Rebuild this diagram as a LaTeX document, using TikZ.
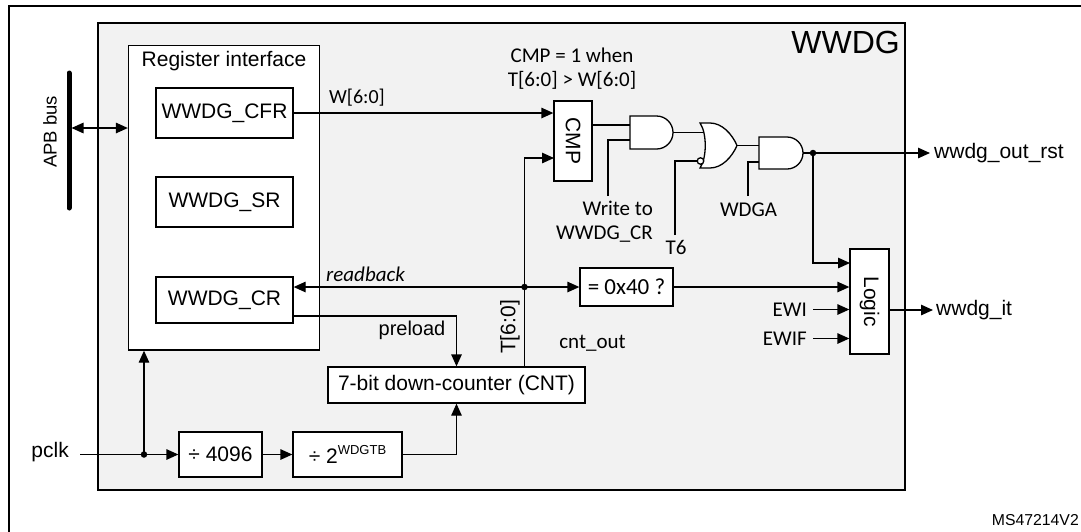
\documentclass[tikz,border=0pt]{standalone}
\usepackage{fontspec}
\setmainfont{Liberation Sans}
\newfontfamily\calfont{Carlito}
\usetikzlibrary{arrows.meta}
\definecolor{blockgray}{HTML}{F2F2F2}
\tikzset{
  wire/.style={line width=1.3pt},
  arr/.style={wire,-{Triangle[length=12pt,width=10.5pt]}},
  darr/.style={wire,{Triangle[length=12pt,width=10.5pt]}-{Triangle[length=12pt,width=10.5pt]}},
  box/.style={draw,line width=1.3pt,fill=white,inner sep=0pt},
  gate/.style={draw,line width=1.3pt,fill=white},
  jdot/.style={circle,fill=black,inner sep=0pt,minimum size=6.5pt},
  af/.style={font=\fontsize{21}{25}\selectfont},
  cf/.style={font=\calfont\fontsize{21}{24}\selectfont},
  lbl/.style={inner sep=0pt},
}
\begin{document}
\begin{tikzpicture}[x=1pt,y=-1pt]
\useasboundingbox (0,0) rectangle (1081,531);
\clip (0,0) rectangle (1081,531);
% outer frame
\coordinate (fbl) at (9,540); \coordinate (ftl) at (9,6); \coordinate (ftr) at (1090,6);
\draw[line width=1.5pt] (fbl) -- (ftl) -- (ftr);
% WWDG block
\node[draw,line width=2pt,fill=blockgray,minimum width=807pt,minimum height=467pt,inner sep=0pt] (wwdg) at (501.5,256.5) {};
\node[lbl,anchor=north east,font=\fontsize{32}{36}\selectfont] (wwdgl) at (900,31) {WWDG};
% register interface
\node[box,minimum width=191pt,minimum height=304.5pt] (regif) at (224,197.75) {};
\node[lbl,af] (regt) at (224,61) {Register interface};
\node[box,af,minimum width=137pt,minimum height=50pt] (cfr) at (224.5,113) {WWDG\_CFR};
\node[box,af,minimum width=137pt,minimum height=50pt] (sr) at (224.5,202) {WWDG\_SR};
\node[box,af,minimum width=137pt,minimum height=46pt] (cr) at (224.5,300) {WWDG\_CR};
% APB bus
\coordinate (apbt) at (69,73); \coordinate (apbb) at (69,208);
\draw[line width=5pt,line cap=round] (apbt) -- (apbb);
\node[lbl,rotate=90,font=\fontsize{18.5}{22}\selectfont] (apbl) at (50,132) {APB bus};
\coordinate (apbm) at (71.5,128);
\draw[darr] (apbm) -- (apbm -| regif.west);
% CMP
\node[box,minimum width=38pt,minimum height=80pt] (cmp) at (573,141) {};
\node[lbl,af,rotate=-90] (cmpt) at (cmp.center) {CMP};
\node[lbl,cf,align=center,anchor=north] (cmpnote) at (572,48) {CMP = 1 when\\T[6:0] > W[6:0]};
\draw[arr] (cfr.east) -- (cfr.east -| cmp.west);
\node[lbl,font=\calfont\fontsize{20}{24}\selectfont] (wl) at (357,98) {W[6:0]};
% =0x40, logic, counter, dividers
\node[box,font=\calfont\fontsize{23}{26}\selectfont,minimum width=93pt,minimum height=38pt] (eq) at (626.5,287) {= 0x40 ?};
\node[box,minimum width=39pt,minimum height=105pt] (logic) at (869.5,301.5) {};
\node[lbl,af,rotate=-90] (logict) at (logic.center) {Logic};
\node[box,af,minimum width=257pt,minimum height=36pt] (cnt) at (456.5,385) {7-bit down-counter (CNT)};
\node[box,af,minimum width=83pt,minimum height=45pt] (div1) at (220.5,454.5) {÷ 4096};
\node[box,af,minimum width=109pt,minimum height=45pt] (div2) at (347.5,454.5) {÷ 2\raisebox{9pt}{\fontsize{13}{15}\selectfont WDGTB}};
% readback / T[6:0]
\node[jdot] (j1) at (524.5,287) {};
\draw[arr] (j1.center) -- (j1.center -| cr.east);
\node[lbl,anchor=base west,font=\calfont\itshape\fontsize{21}{24}\selectfont] (rbl) at (326,281) {readback};
\draw[arr] (j1.center) -- (eq.west);
\coordinate (cmpin2) at (554,158);
\draw[arr] (cnt.north -| j1) -- (j1.center) |- (cmpin2);
\node[lbl,af,rotate=90] (tl) at (510,327) {T[6:0]};
\node[lbl,cf,anchor=base] (col) at (592.5,348) {cnt\_out};
% preload
\coordinate (crout) at (293,316);
\draw[arr] (crout) -| (cnt.north);
\node[lbl,font=\fontsize{20}{24}\selectfont,anchor=base] (pl) at (412,335) {preload};
% pclk
\coordinate (pclkin) at (80,454.5);
\node[lbl,af,anchor=east] (pclkl) at (69,452) {pclk};
\node[jdot] (j3) at (144,454.5) {};
\draw[arr] (pclkin) -- (div1.west);
\draw[arr] (j3.center) -- (j3.center |- regif.south);
\draw[arr] (div1) -- (div2);
\draw[arr] (div2.east) -| (cnt.south);
% gates
\draw[gate] (630,116) -- (656.5,116) .. controls (665.6,116) and (673,123.4) .. (673,132.5) .. controls (673,141.6) and (665.6,149) .. (656.5,149) -- (630,149) -- cycle;
\coordinate (a1i1) at (630,125); \coordinate (a1i2) at (630,140); \coordinate (a1o) at (673,132.5);
\draw[gate] (700,123) -- (710,123) .. controls (722,123) and (732,134) .. (737,145.5) .. controls (732,157) and (722,168) .. (710,168) -- (700,168) .. controls (707,158) and (707,133) .. (700,123) -- cycle;
\coordinate (o1i1) at (704,132.5); \coordinate (o1o) at (737,145.5);
\node[circle,draw,fill=white,line width=1.3pt,minimum size=6.5pt,inner sep=0pt] (bub) at (700.5,161) {};
\draw[gate] (759,137) -- (787,137) .. controls (795.8,137) and (803,144.2) .. (803,153) .. controls (803,161.8) and (795.8,169) .. (787,169) -- (759,169) -- cycle;
\coordinate (a2i1) at (759,145.5); \coordinate (a2i2) at (759,162); \coordinate (a2o) at (803,153);
% gate wiring
\draw[wire] (cmp.east |- a1i1) -- (a1i1);
\coordinate (wrs) at (608,196);
\draw[wire] (wrs) |- (a1i2);
\node[lbl,cf,align=right,anchor=north east] (wrl) at (653,201) {Write to\\WWDG\_CR};
\draw[wire] (a1o) -- (o1i1);
\coordinate (t6s) at (675,235);
\draw[wire] (t6s) |- (bub.west);
\node[lbl,cf,anchor=base] (t6l) at (676,254) {T6};
\draw[wire] (o1o) -- (a2i1);
\coordinate (wdgas) at (748,196);
\draw[wire] (wdgas) |- (a2i2);
\node[lbl,cf,anchor=base] (wdgal) at (748.5,216) {WDGA};
\node[jdot] (j2) at (813,153) {};
\coordinate (rstend) at (930,153);
\draw[wire] (a2o) -- (j2.center);
\draw[arr] (j2.center) -- (rstend);
\node[lbl,af,anchor=west] (rstl) at (934,153) {wwdg\_out\_rst};
% logic inputs / output
\coordinate (lin1) at (850,263);
\draw[arr] (j2.center) |- (lin1);
\draw[arr] (eq.east) -- (eq.east -| logic.west);
\coordinate (ewis) at (813,309.5);
\draw[arr] (ewis) -- (ewis -| logic.west);
\node[lbl,cf,anchor=east] (ewil) at (807,309.5) {EWI};
\coordinate (ewifs) at (813,338.5);
\draw[arr] (ewifs) -- (ewifs -| logic.west);
\node[lbl,cf,anchor=east] (ewifl) at (807,338.5) {EWIF};
\coordinate (lout) at (889,310); \coordinate (itend) at (933,310);
\draw[arr] (lout) -- (itend);
\node[lbl,af,anchor=west] (itl) at (936,310) {wwdg\_it};
% reference number
\node[lbl,anchor=base east,font=\fontsize{15.8}{19}\selectfont] (ms) at (1079,525) {MS47214V2};
\end{tikzpicture}
\end{document}
